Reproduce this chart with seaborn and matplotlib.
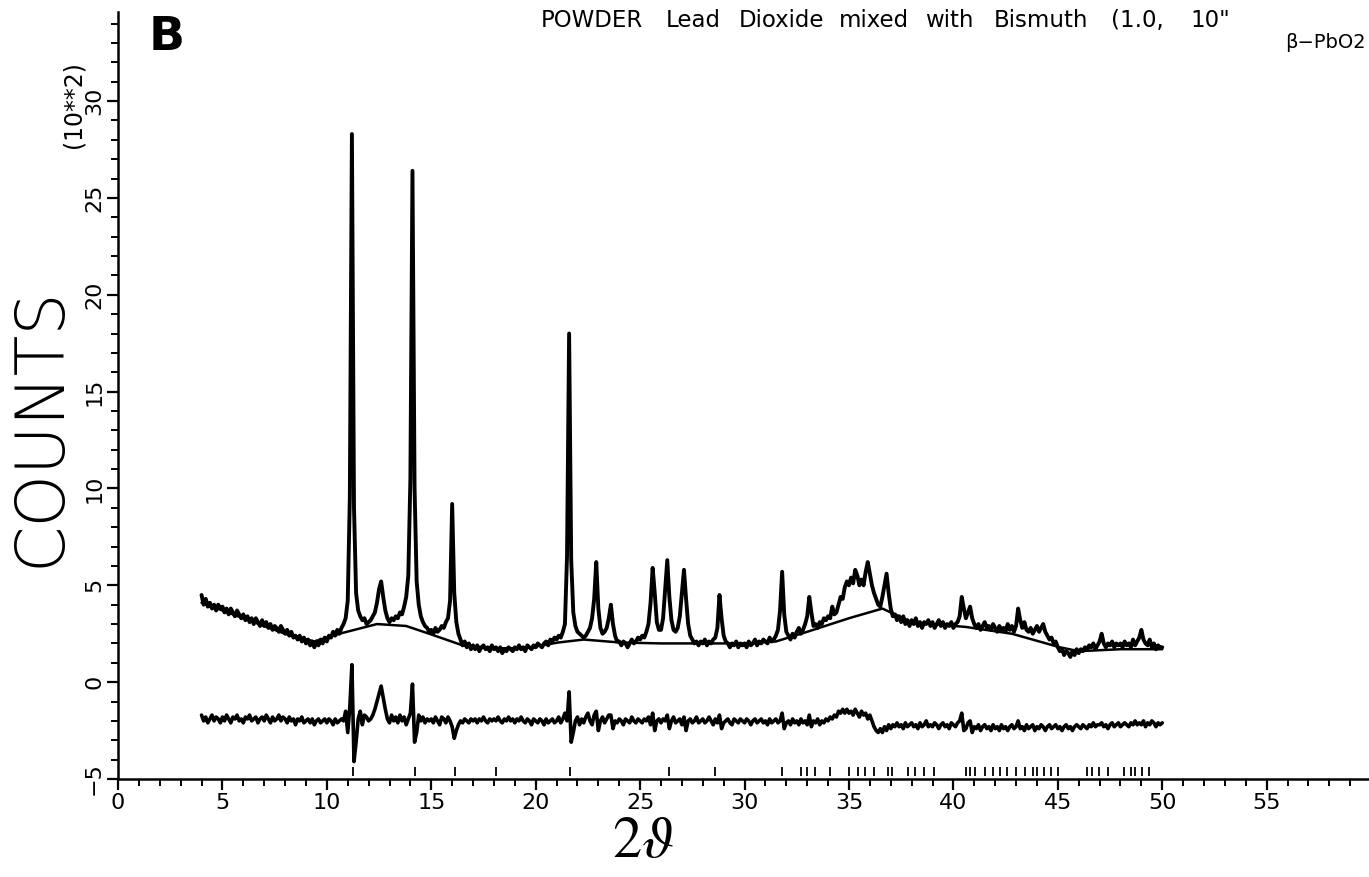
import numpy as np
import matplotlib
matplotlib.use("Agg")
import matplotlib.pyplot as plt
from matplotlib.ticker import MultipleLocator
import seaborn as sns

# 2-theta grid of the scan (0.1 deg steps, 4 to 50 deg)
two_theta = np.linspace(4.0, 50.0, 461)

obs_counts = [
    4.5, 4.0, 4.3, 3.9, 4.1, 3.8, 4.0, 3.7, 4.0, 3.8,
    3.9, 3.6, 3.8, 3.5, 3.8, 3.6, 3.4, 3.7, 3.5, 3.3,
    3.5, 3.2, 3.4, 3.1, 3.3, 3.0, 3.3, 3.1, 2.9, 3.2,
    2.9, 3.1, 2.8, 3.0, 2.7, 2.9, 2.8, 2.6, 2.9, 2.7,
    2.5, 2.7, 2.4, 2.6, 2.3, 2.4, 2.2, 2.4, 2.1, 2.3,
    2.0, 2.2, 1.9, 2.1, 1.8, 2.1, 1.9, 2.2, 2.0, 2.3,
    2.1, 2.4, 2.3, 2.6, 2.4, 2.7, 2.5, 2.8, 3.0, 3.3,
    4.2, 9.5, 28.3, 9.0, 4.6, 3.7, 3.4, 3.2, 3.3, 3.0,
    3.1, 3.2, 3.4, 3.6, 4.1, 4.8, 5.2, 4.4, 3.7, 3.3,
    3.1, 3.3, 3.2, 3.4, 3.3, 3.6, 3.5, 3.9, 4.4, 5.5,
    10.5, 26.4, 10.0, 5.2, 4.0, 3.4, 3.1, 2.9, 2.8, 2.6,
    2.7, 2.5, 2.8, 2.6, 2.7, 2.9, 2.8, 3.1, 3.3, 4.2,
    9.2, 4.6, 3.1, 2.5, 2.2, 1.9, 2.1, 1.8, 2.0, 1.7,
    1.9, 1.7, 1.9, 1.6, 1.8, 1.9, 1.7, 1.8, 1.6, 1.9,
    1.7, 1.8, 1.6, 1.8, 1.5, 1.7, 1.6, 1.8, 1.7, 1.6,
    1.8, 1.7, 1.9, 1.7, 1.8, 1.6, 1.9, 1.8, 1.7, 1.9,
    1.8, 2.0, 1.9, 1.8, 2.0, 2.1, 1.9, 2.2, 2.1, 2.3,
    2.2, 2.4, 2.3, 2.6, 3.0, 6.5, 18.0, 6.3, 3.6, 2.9,
    2.6, 2.5, 2.4, 2.3, 2.4, 2.6, 2.8, 3.3, 4.3, 6.2,
    3.8, 2.8, 2.5, 2.6, 2.8, 3.3, 4.0, 3.0, 2.4, 2.1,
    2.1, 1.9, 2.1, 2.0, 1.8, 2.0, 2.2, 2.0, 2.1, 2.3,
    2.2, 2.4, 2.3, 2.6, 3.0, 4.1, 5.9, 4.6, 3.1, 2.7,
    2.7, 3.3, 4.8, 6.3, 4.4, 3.2, 2.7, 2.6, 2.8, 3.4,
    4.6, 5.8, 4.3, 3.0, 2.4, 2.2, 2.0, 2.1, 1.9, 2.1,
    2.0, 2.2, 1.9, 2.1, 2.0, 2.2, 2.3, 2.8, 4.5, 3.3,
    2.4, 2.1, 2.0, 1.8, 2.0, 1.9, 2.1, 1.8, 2.0, 1.9,
    2.0, 1.8, 2.1, 1.9, 2.0, 2.2, 1.9, 2.1, 2.0, 2.2,
    2.1, 2.0, 2.3, 2.1, 2.2, 2.4, 2.7, 3.7, 5.7, 3.5,
    2.6, 2.4, 2.2, 2.5, 2.3, 2.6, 2.8, 2.5, 2.7, 3.0,
    3.4, 4.4, 3.6, 2.9, 3.0, 2.8, 3.1, 3.0, 3.3, 3.2,
    3.4, 3.3, 3.9, 3.5, 3.6, 4.0, 4.4, 4.3, 4.9, 5.2,
    5.0, 5.4, 5.1, 5.8, 5.5, 5.0, 5.3, 5.0, 5.7, 6.2,
    5.6, 5.0, 4.6, 4.3, 4.0, 3.9, 4.4, 5.0, 5.6, 4.6,
    3.8, 3.4, 3.5, 3.2, 3.4, 3.1, 3.4, 3.0, 3.2, 2.9,
    3.2, 3.0, 3.3, 2.9, 3.1, 2.8, 3.1, 3.0, 3.2, 2.9,
    3.1, 2.8, 3.0, 3.2, 2.9, 3.1, 2.8, 3.0, 2.9, 3.1,
    2.8, 3.0, 3.1, 3.4, 4.4, 3.8, 3.3, 3.6, 3.9, 3.3,
    3.0, 2.8, 3.0, 2.7, 2.9, 3.1, 2.8, 2.9, 2.7, 3.0,
    2.8, 2.6, 2.9, 2.7, 2.8, 2.6, 3.0, 2.7, 2.9, 2.6,
    2.9, 3.8, 3.2, 2.8, 3.1, 2.7, 2.6, 2.8, 2.5, 2.7,
    2.9, 2.6, 2.8, 3.0, 2.6, 2.4, 2.2, 2.3, 2.0, 2.1,
    1.8, 1.6, 1.7, 1.4, 1.6, 1.5, 1.3, 1.6, 1.4, 1.7,
    1.5, 1.7, 1.6, 1.8, 1.7, 1.9, 1.8, 2.0, 1.7, 1.9,
    2.1, 2.5, 2.0, 1.8, 2.0, 1.9, 2.1, 1.8, 2.0, 1.9,
    2.0, 1.8, 2.1, 1.9, 2.0, 1.8, 2.2, 1.9, 2.1, 2.3,
    2.7, 2.2, 2.0, 1.9, 2.2, 1.8, 2.0, 1.7, 1.9, 1.8,
    1.8,
]

# difference curve (obs - calc), plotted offset below zero
diff_counts = [
    -1.7, -2.0, -1.8, -2.1, -1.9, -1.7, -2.0, -1.8, -1.9, -2.1,
    -1.8, -2.0, -1.7, -1.9, -2.1, -1.8, -1.9, -1.7, -2.0, -1.9,
    -2.1, -1.8, -1.9, -1.7, -2.0, -1.9, -1.8, -2.1, -1.9, -1.8,
    -2.0, -1.7, -1.9, -2.1, -1.8, -2.0, -1.9, -1.7, -2.0, -1.8,
    -1.9, -2.1, -1.8, -2.0, -1.9, -2.2, -1.9, -2.0, -1.8, -2.1,
    -2.0, -1.9, -2.1, -1.9, -2.2, -2.0, -1.9, -2.1, -2.0, -1.9,
    -2.1, -1.9, -2.0, -2.2, -1.9, -2.1, -2.0, -1.9, -2.0, -1.5,
    -2.6, -1.3, 0.9, -4.1, -3.1, -1.9, -1.5, -2.2, -1.7, -1.8,
    -2.0, -1.9, -1.7, -1.4, -1.0, -0.6, -0.2, -0.8, -1.4, -1.9,
    -2.1, -1.7, -2.0, -1.8, -2.1, -1.7, -2.0, -1.8, -2.2, -1.9,
    -1.6, -0.1, -3.1, -2.6, -1.7, -2.0, -1.8, -2.1, -1.9, -2.0,
    -1.9, -2.1, -1.8, -2.0, -2.2, -1.8, -1.9, -2.1, -1.8, -2.0,
    -2.3, -2.9, -2.5, -2.2, -2.0, -2.1, -1.9, -2.0, -2.1, -1.9,
    -2.0, -1.9, -2.1, -1.9, -2.0, -1.8, -2.0, -2.1, -1.9, -2.0,
    -1.9, -2.0, -1.8, -2.0, -2.1, -1.9, -2.0, -1.8, -2.0, -1.9,
    -2.1, -1.9, -2.0, -1.8, -2.0, -2.1, -1.9, -2.0, -2.2, -1.9,
    -2.0, -2.1, -1.9, -2.0, -2.2, -1.9, -2.1, -2.0, -1.9, -2.1,
    -2.0, -1.8, -2.1, -1.9, -1.6, -2.0, -0.5, -3.1, -2.6, -2.0,
    -1.8, -2.2, -1.9, -2.1, -1.8, -1.6, -2.0, -2.2, -1.7, -1.5,
    -2.5, -2.0, -1.8, -2.1, -1.9, -1.7, -1.7, -2.4, -2.0, -2.1,
    -1.9, -2.0, -2.2, -1.9, -2.0, -2.1, -1.8, -2.0, -2.1, -1.9,
    -2.0, -2.1, -1.9, -2.0, -1.8, -2.2, -1.6, -2.5, -2.0, -1.9,
    -2.1, -1.9, -2.0, -1.7, -2.4, -2.0, -1.8, -2.1, -2.0, -1.9,
    -2.2, -1.8, -2.5, -2.0, -1.9, -2.1, -2.0, -1.8, -2.1, -2.0,
    -1.9, -2.1, -2.0, -1.8, -2.0, -2.2, -1.9, -2.1, -1.7, -2.4,
    -2.1, -2.0, -1.9, -2.1, -2.2, -1.9, -2.0, -2.1, -1.9, -2.0,
    -2.1, -1.9, -2.0, -2.2, -2.0, -1.9, -2.1, -2.0, -1.9, -2.1,
    -2.0, -2.2, -1.9, -2.1, -2.0, -1.9, -2.1, -2.0, -1.6, -2.4,
    -2.1, -2.0, -2.2, -1.9, -2.1, -2.0, -2.2, -1.9, -2.1, -2.0,
    -2.2, -1.7, -2.3, -2.0, -2.1, -1.9, -2.2, -2.0, -2.1, -1.9,
    -2.0, -1.8, -1.9, -1.7, -1.8, -1.5, -1.6, -1.4, -1.6, -1.4,
    -1.6, -1.5, -1.7, -1.4, -1.6, -1.8, -1.5, -1.7, -1.6, -1.9,
    -1.7, -2.0, -2.3, -2.5, -2.6, -2.4, -2.6, -2.3, -2.5, -2.2,
    -2.4, -2.2, -2.3, -2.1, -2.3, -2.2, -2.4, -2.1, -2.3, -2.2,
    -2.1, -2.3, -2.2, -2.4, -2.1, -2.3, -2.2, -2.0, -2.3, -2.2,
    -2.3, -2.1, -2.2, -2.4, -2.2, -2.1, -2.3, -2.2, -2.4, -2.1,
    -2.2, -2.3, -2.1, -2.0, -1.6, -2.5, -2.4, -2.1, -2.0, -2.6,
    -2.3, -2.4, -2.2, -2.5, -2.3, -2.2, -2.4, -2.3, -2.5, -2.2,
    -2.4, -2.3, -2.5, -2.2, -2.4, -2.3, -2.5, -2.3, -2.2, -2.4,
    -2.3, -2.0, -2.4, -2.3, -2.5, -2.2, -2.4, -2.3, -2.2, -2.5,
    -2.3, -2.4, -2.2, -2.3, -2.5, -2.3, -2.2, -2.4, -2.3, -2.2,
    -2.4, -2.3, -2.5, -2.3, -2.2, -2.4, -2.3, -2.5, -2.3, -2.2,
    -2.3, -2.4, -2.2, -2.3, -2.4, -2.2, -2.3, -2.1, -2.3, -2.2,
    -2.2, -2.1, -2.3, -2.2, -2.4, -2.2, -2.1, -2.3, -2.2, -2.1,
    -2.3, -2.2, -2.1, -2.2, -2.3, -2.1, -2.2, -2.0, -2.2, -2.1,
    -2.2, -2.0, -2.3, -2.1, -2.2, -2.0, -2.1, -2.3, -2.1, -2.2,
    -2.1,
]

# refined background (polyline knots)
bkg_theta = [4.0, 6.0, 8.0, 9.4, 10.6, 12.4, 13.8, 14.9, 16.5, 18.0, 19.5,
             21.1, 22.3, 24.0, 26.0, 30.0, 31.5, 33.0, 35.0, 36.6, 37.2,
             38.0, 39.5, 40.6, 42.8, 45.1, 46.0, 48.0, 50.0]
bkg_counts = [4.1, 3.3, 2.5, 2.1, 2.5, 3.0, 2.9, 2.5, 1.9, 1.75, 1.75,
              2.05, 2.2, 2.05, 2.0, 2.0, 2.1, 2.6, 3.3, 3.8, 3.5,
              3.1, 2.95, 2.85, 2.5, 1.8, 1.6, 1.7, 1.7]

# beta-PbO2 reflection positions
reflections = [11.26, 14.2, 16.13, 18.1, 21.63, 26.4, 28.6,
               31.8, 32.7, 33.0, 33.35, 34.1, 35.0, 35.44, 35.77, 36.2,
               36.87, 37.08, 37.85, 38.18, 38.6, 39.05, 40.6, 40.8, 41.04,
               41.5, 41.9, 42.25, 42.58, 43.0, 43.45, 43.8, 44.0, 44.33,
               44.65, 45.0, 46.4, 46.64, 46.96, 47.4, 48.17, 48.5, 48.7,
               49.04, 49.38]

# title words and their left edges (pixels) as laid out on the original
title_words = ["POWDER", "Lead", "Dioxide", "mixed", "with", "Bismuth",
               "(1.0,", "10\""]
title_left_px = [541, 666, 739, 839, 925, 994, 1111, 1190]

sns.set_style("ticks", {"axes.edgecolor": "black", "xtick.color": "black",
                        "ytick.color": "black", "text.color": "black"})
plt.rcParams['font.family'] = ['DejaVu Sans']
plt.rcParams['mathtext.fontset'] = 'stix'

W, H = 1369, 877
fig = plt.figure(figsize=(W / 100, H / 100), dpi=100)
ax = fig.add_axes([118 / W, 98 / H, (W - 118) / W, 767 / H])

sns.lineplot(x=two_theta, y=obs_counts, ax=ax, color='black', linewidth=2.8,
             estimator=None, sort=False)
sns.lineplot(x=bkg_theta, y=bkg_counts, ax=ax, color='black', linewidth=1.8,
             estimator=None, sort=False)
sns.lineplot(x=two_theta, y=diff_counts, ax=ax, color='black', linewidth=2.6,
             estimator=None, sort=False)
ax.vlines(reflections, -4.85, -4.4, color='black', linewidth=1.3)

ax.set_xlim(0, 59.9)
ax.set_ylim(-5, 34.6)
ax.set_xticks(range(0, 60, 5))
ax.xaxis.set_minor_locator(MultipleLocator(1))
ax.set_yticks(range(-5, 31, 5))
ax.yaxis.set_minor_locator(MultipleLocator(1))

sns.despine(ax=ax)
for s in ['left', 'bottom']:
    ax.spines[s].set_linewidth(1.8)
ax.tick_params(which='major', length=8, width=1.6, labelsize=16, pad=2,
               colors='black')
ax.tick_params(which='minor', length=5, width=1.4, colors='black')
ax.tick_params(axis='y', labelrotation=90)
for lab in ax.get_yticklabels():
    lab.set_va('center')
ax.set_xlabel('')
ax.set_ylabel('')

fig.text(167 / W, 1 - 38 / H, 'B', fontsize=34, fontweight='heavy',
         ha='center', va='center')
fig.text(41 / W, 1 - 427 / H, 'COUNTS', rotation=90, fontsize=48,
         fontweight='light', ha='center', va='center')
fig.text(74 / W, 1 - 105 / H, '(10**2)', rotation=90, fontsize=17,
         ha='center', va='center')
fig.text(643 / W, 1 - 840 / H, r'$\mathit{2}\vartheta$', fontsize=42,
         ha='center', va='center')
for word, left in zip(title_words, title_left_px):
    fig.text(left / W, 1 - 27 / H, word, fontsize=16.5, ha='left',
             va='baseline')
fig.text(1366 / W, 1 - 48 / H, 'β−PbO2', fontsize=14, ha='right',
         va='baseline')

fig.savefig('out.png', dpi=100)
